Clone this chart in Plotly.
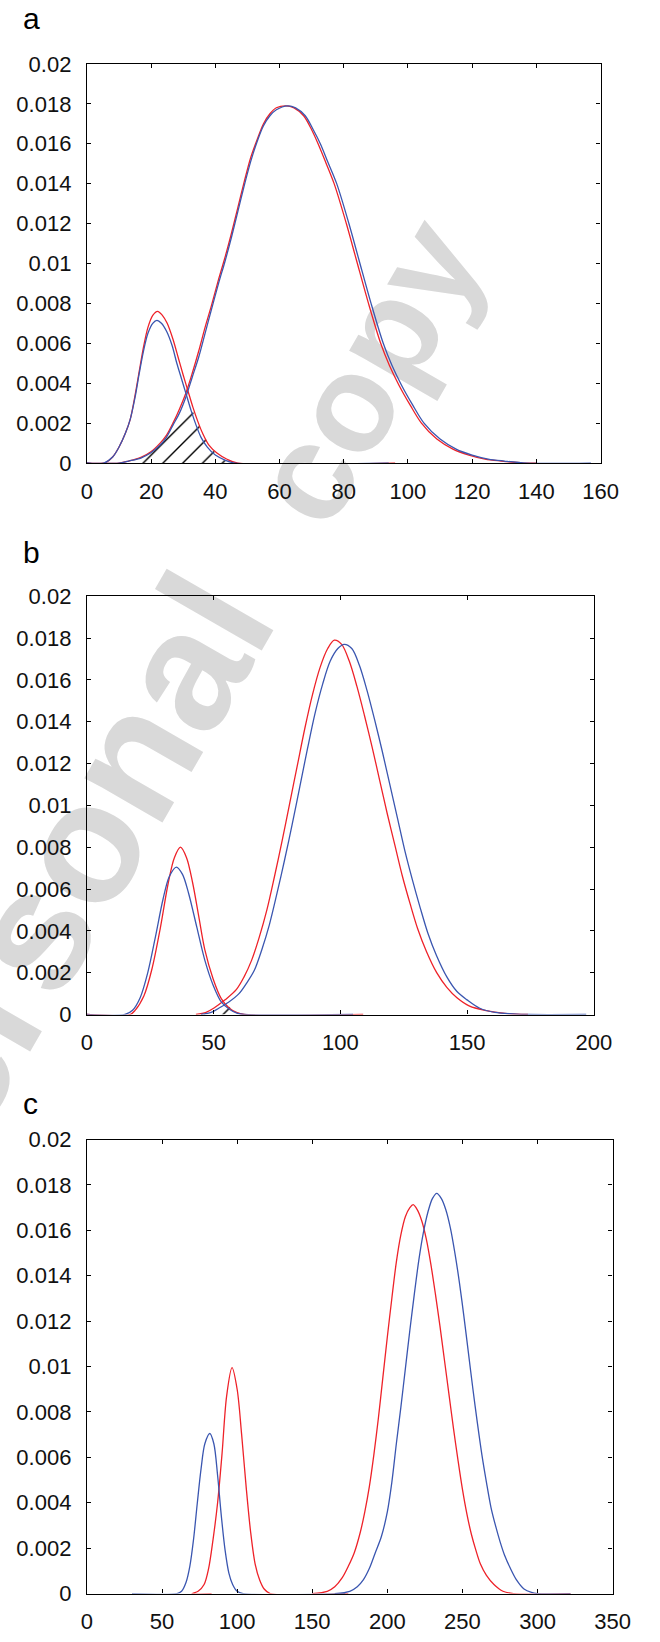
import plotly.graph_objects as go

# ---------------- data ----------------
# Panel a
a_red_small_x = [0, 5.5, 8, 10, 12, 13.5, 15, 16.3, 17.6, 19, 20.5, 22, 23.5, 25, 26.8, 28.4, 30, 31.5, 33, 34.5, 36, 38, 40.5, 43.5, 47, 96]
a_red_small_y = [0, 0, 0.0003, 0.0008, 0.0015, 0.0022, 0.0034, 0.0046, 0.0058, 0.0068, 0.0074, 0.0076, 0.0074, 0.0070, 0.0062, 0.0053, 0.0044, 0.0036, 0.0028, 0.0021, 0.0015, 0.0009, 0.0005, 0.0002, 0, 0]
a_blue_small_x = [0, 5.3, 8, 10, 12, 13.5, 15, 16.3, 17.6, 19, 20.5, 21.8, 23.2, 24.8, 26.5, 28, 29.5, 31, 32.5, 34, 35.5, 37.5, 40, 43, 46, 94]
a_blue_small_y = [0, 0, 0.0003, 0.0008, 0.0015, 0.0022, 0.0033, 0.0045, 0.0056, 0.0065, 0.0070, 0.00715, 0.0070, 0.0066, 0.0059, 0.0050, 0.0042, 0.0034, 0.0026, 0.0019, 0.0013, 0.0008, 0.0004, 0.00015, 0, 0]
a_red_big_x = [0, 10, 13, 16.8, 19.8, 22.8, 24.8, 26.8, 28.8, 30.8, 32.8, 34.8, 36.8, 38.8, 41, 43, 45, 47, 49, 51, 53, 55, 57, 59, 62, 64.5, 67.5, 70, 72, 74.3, 77, 80.8, 83.9, 87.7, 91.5, 94.2, 97.2, 100.7, 104.2, 109, 114, 119, 124, 129, 136, 140]
a_red_big_y = [0, 0, 0.0001, 0.00028, 0.00055, 0.001, 0.0014, 0.002, 0.0027, 0.0035, 0.0045, 0.0056, 0.0068, 0.0079, 0.0092, 0.0103, 0.0115, 0.0128, 0.0141, 0.0153, 0.0162, 0.0170, 0.0175, 0.0178, 0.0179, 0.0178, 0.0174, 0.0167, 0.0160, 0.0151, 0.0140, 0.0120, 0.0102, 0.0080, 0.0060, 0.0049, 0.0039, 0.0029, 0.0020, 0.0012, 0.0007, 0.0004, 0.0002, 0.0001, 0, 0]
a_blue_big_x = [0, 10, 13, 16.8, 19.8, 22.8, 24.8, 26.8, 28.8, 30.8, 32.8, 34.8, 36.8, 38.8, 41, 43, 45, 47, 49, 51, 53, 55, 57, 59, 62.5, 65, 68, 70.5, 72.7, 75, 77.8, 81.6, 84.7, 88.5, 92.3, 95, 98, 101.5, 105, 110, 115, 120, 125, 130, 137, 157]
a_blue_big_y = [0, 0, 0.0001, 0.00025, 0.0005, 0.0009, 0.0013, 0.0019, 0.0025, 0.0033, 0.0043, 0.0053, 0.0065, 0.0077, 0.0090, 0.0101, 0.0113, 0.0126, 0.0139, 0.0151, 0.0161, 0.0169, 0.0174, 0.0177, 0.0179, 0.0178, 0.0174, 0.0167, 0.0160, 0.0151, 0.0140, 0.0120, 0.0102, 0.0080, 0.0060, 0.0049, 0.0039, 0.0029, 0.0020, 0.0012, 0.0007, 0.0004, 0.0002, 0.0001, 0, 0]
a_hatch_x = [17, 17, 19.8, 22.8, 24.8, 26.8, 28.8, 31.5, 33, 35, 37, 40, 43, 44, 17]
a_hatch_y = [0, 0.00025, 0.0005, 0.0009, 0.0013, 0.0019, 0.0025, 0.0031, 0.0026, 0.0019, 0.0012, 0.0005, 0.00015, 0, 0]

# Panel b
b_red_small_x = [0, 17, 19, 22.5, 25.7, 28.9, 32.1, 34.5, 36.9, 39.3, 41.7, 44.1, 46.5, 49.8, 53, 56.2, 59, 62, 109]
b_red_small_y = [0, 0, 0.0002, 0.0009, 0.0022, 0.0041, 0.0063, 0.0075, 0.0080, 0.0075, 0.0063, 0.0047, 0.0031, 0.0017, 0.00076, 0.0003, 0.0001, 0, 0]
b_blue_small_x = [0, 15, 18, 21, 24, 27, 30, 32.5, 35.3, 37.7, 40.1, 43.3, 46.5, 49.8, 53, 56.2, 59.4, 62, 105]
b_blue_small_y = [0, 0, 0.0002, 0.0008, 0.002, 0.0037, 0.0055, 0.0066, 0.00705, 0.0067, 0.0058, 0.0042, 0.0026, 0.0014, 0.0006, 0.00025, 0.00005, 0, 0]
b_red_big_x = [43, 47, 50, 54.5, 59, 62, 65, 68, 71, 74, 77, 80, 83, 86, 89, 92, 95, 97.6, 100.5, 103.5, 106.5, 109.5, 112.5, 115.5, 118.5, 121.5, 124.5, 127.5, 130.5, 134, 138, 142, 146, 151, 157, 165, 174]
b_red_big_y = [0, 0.0001, 0.0003, 0.0007, 0.0012, 0.0018, 0.0026, 0.0037, 0.0050, 0.0066, 0.0083, 0.0101, 0.0119, 0.0137, 0.0153, 0.0166, 0.0175, 0.0179, 0.0177, 0.0169, 0.0157, 0.0143, 0.0128, 0.0112, 0.0096, 0.0081, 0.0066, 0.0053, 0.0041, 0.0030, 0.0020, 0.0013, 0.0008, 0.0004, 0.0002, 0.00005, 0]
b_blue_big_x = [45, 49, 52, 56, 60, 63, 66, 69, 72, 75, 78, 81, 84, 87, 90, 93, 96, 99, 101.5, 104.5, 107.5, 110.5, 113.5, 116.5, 119.5, 122.5, 125.5, 128.5, 131.5, 134.5, 138, 142, 146, 150, 155, 161, 168, 174, 197]
b_blue_big_y = [0, 0.0001, 0.0003, 0.0006, 0.001, 0.0015, 0.0021, 0.0031, 0.0043, 0.0058, 0.0074, 0.0091, 0.0109, 0.0127, 0.0144, 0.0158, 0.0169, 0.0175, 0.0177, 0.0175, 0.0167, 0.0155, 0.0141, 0.0126, 0.0110, 0.0094, 0.0078, 0.0064, 0.0051, 0.0039, 0.0028, 0.0018, 0.0011, 0.0007, 0.0003, 0.0001, 0.00003, 0, 0]
b_hatch_x = [46, 48, 50, 52.5, 54.6, 56, 57.5, 59, 46]
b_hatch_y = [0, 0.0001, 0.0003, 0.0005, 0.0007, 0.0004, 0.0002, 0, 0]

# Panel c
c_blue_small_x = [30, 60, 63, 66, 68.5, 71, 73.5, 76, 78.5, 81.8, 84.5, 87, 89.5, 92, 94.5, 97, 100, 104, 172]
c_blue_small_y = [0, 0, 0.0001, 0.0005, 0.0012, 0.0024, 0.0040, 0.0055, 0.0066, 0.00705, 0.0066, 0.0052, 0.0034, 0.0019, 0.0009, 0.0004, 0.0001, 0, 0]
c_red_small_x = [83, 70, 74, 78, 81, 84, 87, 90, 93, 96.6, 100, 103, 106, 109, 112, 115, 118, 122, 174]
c_red_small_y = [0, 0, 0.0001, 0.0004, 0.0011, 0.0024, 0.0040, 0.0062, 0.0087, 0.00995, 0.0090, 0.0070, 0.0047, 0.0027, 0.0013, 0.0006, 0.0002, 0, 0]
c_red_big_x = [150, 160, 165, 170, 174, 178, 182, 185, 188, 191, 194, 197, 200, 203, 206, 209, 212, 215, 217.2, 220, 223, 226, 229, 232, 235, 238, 241, 244, 247, 250, 253, 256, 259, 262, 266, 271, 277, 284, 322]
c_red_big_y = [0, 0.0001, 0.0003, 0.0007, 0.0012, 0.0018, 0.0027, 0.0036, 0.0047, 0.0061, 0.0077, 0.0095, 0.0113, 0.0130, 0.0146, 0.0158, 0.0166, 0.0170, 0.01713, 0.0169, 0.0164, 0.0156, 0.0145, 0.0132, 0.0118, 0.0103, 0.0088, 0.0073, 0.0059, 0.0046, 0.0035, 0.0026, 0.0019, 0.0013, 0.0008, 0.0004, 0.0001, 0, 0]
c_blue_big_x = [165, 175, 180, 184, 188, 192, 196, 200, 203, 206, 209, 212, 215, 218, 221, 224, 227, 230, 232.9, 236, 239, 242, 245, 248, 251, 254, 257, 260, 263, 266, 269, 272, 275, 278, 282, 286, 291, 296, 300, 322]
c_blue_big_y = [0, 0.0001, 0.0003, 0.0006, 0.0011, 0.0018, 0.0025, 0.0036, 0.0049, 0.0066, 0.0082, 0.0099, 0.0116, 0.0132, 0.0147, 0.0159, 0.0168, 0.0174, 0.01763, 0.0174, 0.0169, 0.0161, 0.0150, 0.0137, 0.0122, 0.0106, 0.0090, 0.0075, 0.0061, 0.0049, 0.0038, 0.0030, 0.0023, 0.0017, 0.0011, 0.0006, 0.0002, 0.00005, 0, 0]

# axis ticks
y_tickvals = [0, 0.002, 0.004, 0.006, 0.008, 0.01, 0.012, 0.014, 0.016, 0.018, 0.02]
y_ticktext = ["0", "0.002", "0.004", "0.006", "0.008", "0.01", "0.012", "0.014", "0.016", "0.018", "0.02"]
a_xticks = [0, 20, 40, 60, 80, 100, 120, 140, 160]
b_xticks = [0, 50, 100, 150, 200]
c_xticks = [0, 50, 100, 150, 200, 250, 300, 350]
panel_labels = ["a", "b", "c"]
watermark_words = ["copy", "Personal"]

# ---------------- figure ----------------
W, H = 660, 1642
RED = "#EE2229"
BLUE = "#3A56B0"
FONT = "Liberation Sans, Arial, sans-serif"

fig = go.Figure()

def add_curve(x, y, color, ax):
    fig.add_trace(go.Scatter(x=x, y=y, mode="lines", xaxis="x" + ax, yaxis="y" + ax,
                             line=dict(color=color, width=1.3, shape="spline", smoothing=0.9),
                             hoverinfo="skip", showlegend=False))

def add_hatch(x, y, ax):
    fig.add_trace(go.Scatter(x=x, y=y, mode="lines", xaxis="x" + ax, yaxis="y" + ax,
                             fill="toself", fillcolor="rgba(0,0,0,0)",
                             fillpattern=dict(shape="/", fgcolor="black", fgopacity=1,
                                              bgcolor="rgba(0,0,0,0)", size=14, solidity=0.1),
                             line=dict(width=0), hoverinfo="skip", showlegend=False))

add_hatch(a_hatch_x, a_hatch_y, "")
add_curve(a_red_small_x, a_red_small_y, RED, "")
add_curve(a_red_big_x, a_red_big_y, RED, "")
add_curve(a_blue_small_x, a_blue_small_y, BLUE, "")
add_curve(a_blue_big_x, a_blue_big_y, BLUE, "")

add_hatch(b_hatch_x, b_hatch_y, "2")
add_curve(b_red_small_x, b_red_small_y, RED, "2")
add_curve(b_red_big_x, b_red_big_y, RED, "2")
add_curve(b_blue_small_x, b_blue_small_y, BLUE, "2")
add_curve(b_blue_big_x, b_blue_big_y, BLUE, "2")

add_curve(c_red_small_x, c_red_small_y, RED, "3")
add_curve(c_red_big_x, c_red_big_y, RED, "3")
add_curve(c_blue_small_x, c_blue_small_y, BLUE, "3")
add_curve(c_blue_big_x, c_blue_big_y, BLUE, "3")

def px_x(p):
    return p / W

def px_y(p):
    return 1 - p / H

common_axis = dict(showline=True, linecolor="black", linewidth=1.3, mirror="ticks",
                   ticks="inside", ticklen=4, tickwidth=1.2, tickcolor="black",
                   showgrid=False, zeroline=False)

def xaxis(rng, ticks, left, right, anchor):
    return dict(common_axis, range=rng, tickvals=ticks, ticktext=[str(t) for t in ticks],
                domain=[px_x(left), px_x(right)], anchor=anchor,
                tickfont=dict(family=FONT, size=22, color="#111"), ticklabelstandoff=8)

def yaxis(top, bottom, anchor):
    return dict(common_axis, range=[0, 0.02], tickvals=y_tickvals, ticktext=y_ticktext,
                domain=[px_y(bottom), px_y(top)], anchor=anchor,
                tickfont=dict(family=FONT, size=22, color="#111"), ticklabelstandoff=10)

fig.update_layout(
    width=W, height=H, autosize=False,
    margin=dict(l=0, r=0, t=0, b=0),
    paper_bgcolor="white", plot_bgcolor="rgba(0,0,0,0)",
    showlegend=False,
    xaxis=xaxis([0, 160], a_xticks, 84, 617, "y"),
    yaxis=yaxis(52.7, 458, "x"),
    xaxis2=xaxis([0, 200], b_xticks, 84, 610, "y2"),
    yaxis2=yaxis(593.3, 1018, "x2"),
    xaxis3=xaxis([0, 350], c_xticks, 84, 629.5, "y3"),
    yaxis3=yaxis(1145, 1606, "x3"),
)

# panel letters
for lab, ypx in zip(panel_labels, [7, 549, 1108]):
    fig.add_annotation(text=lab, xref="paper", yref="paper", x=px_x(16), y=px_y(ypx),
                       xanchor="left", yanchor="middle", showarrow=False,
                       font=dict(family=FONT, size=30, color="black"))

# watermark (drawn below the plots)
for txt, (cx, cy), fs in zip(watermark_words, [(362, 358), (30, 895)], [138, 170]):
    fig.add_shape(type="rect", xref="paper", yref="paper",
                  x0=px_x(cx - 2), x1=px_x(cx + 2), y0=px_y(cy + 2), y1=px_y(cy - 2),
                  line=dict(width=0), fillcolor="rgba(0,0,0,0)", layer="below",
                  label=dict(text=txt, textangle=-60, textposition="middle center",
                             font=dict(family=FONT, size=fs, color="#D9D9D9", weight="bold")))

fig.write_html("out.html")
